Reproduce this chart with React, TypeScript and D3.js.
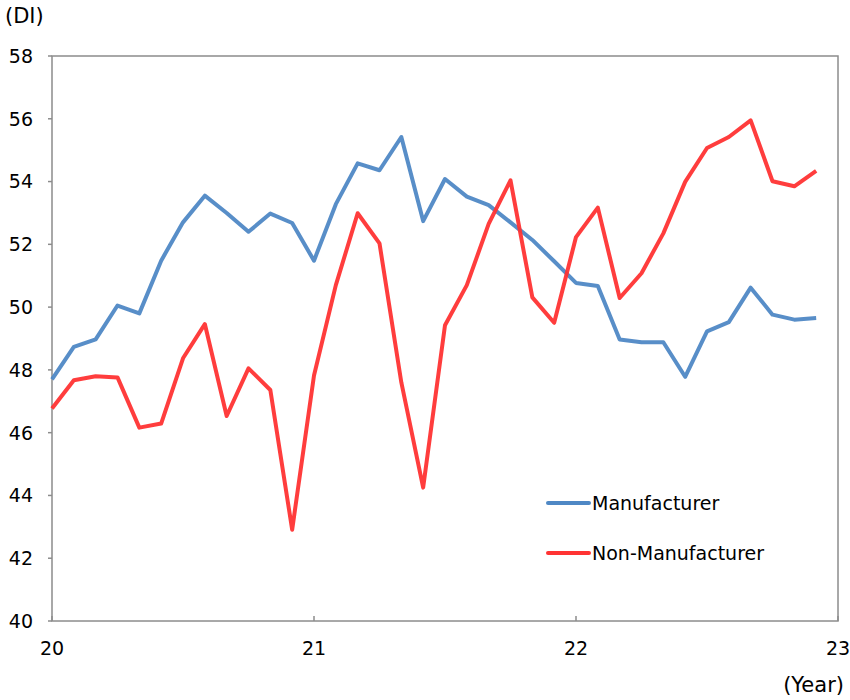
import React from "react";
import * as d3 from "d3";

// Monthly DI, Jan 2020 – Dec 2022
const manufacturer = [
  47.7, 48.73, 48.97, 50.05, 49.8, 51.48, 52.7, 53.55, 53.0, 52.4, 52.98, 52.68,
  51.48, 53.28, 54.58, 54.36, 55.42, 52.74, 54.08, 53.52, 53.25, 52.7, 52.14, 51.46,
  50.77, 50.67, 48.97, 48.88, 48.88, 47.78, 49.23, 49.52, 50.62, 49.76, 49.6, 49.65,
];
const nonManufacturer = [
  46.77, 47.67, 47.8, 47.76, 46.16, 46.29, 48.37, 49.46, 46.53, 48.05, 47.36, 42.91,
  47.82, 50.7, 52.99, 52.03, 47.6, 44.25, 49.42, 50.7, 52.65, 54.04, 50.31, 49.5,
  52.23, 53.17, 50.29, 51.08, 52.35, 53.99, 55.07, 55.42, 55.95, 54.01, 53.85, 54.34,
];
const yTicks = [40, 42, 44, 46, 48, 50, 52, 54, 56, 58];
const xTicks = [20, 21, 22, 23];

const series = [
  { name: "Manufacturer", values: manufacturer, color: "#4F88C5" },
  { name: "Non-Manufacturer", values: nonManufacturer, color: "#FF3333" },
];

const W = 850;
const H = 700;
const m = { left: 52, right: 838, top: 56, bottom: 621 };
const FONT = "Verdana, 'DejaVu Sans', sans-serif";

export default function App() {
  const x = d3.scaleLinear().domain([20, 23]).range([m.left, m.right]);
  const y = d3.scaleLinear().domain([40, 58]).range([m.bottom, m.top]);
  const line = d3
    .line<number>()
    .x((_, i) => x(20 + i / 12))
    .y((d) => y(d));

  const axisColor = "#8c8c8c";

  return (
    <svg
      width={W}
      height={H}
      style={{ position: "absolute", left: 0, top: 0, background: "#fff" }}
      fontFamily={FONT}
    >
      <rect x={0} y={0} width={W} height={H} fill="#fff" />
      {/* plot frame */}
      <rect
        x={m.left}
        y={m.top}
        width={m.right - m.left}
        height={m.bottom - m.top}
        fill="none"
        stroke={axisColor}
        strokeWidth={1.5}
      />
      {/* y axis ticks & labels */}
      {yTicks.map((t) => (
        <g key={t}>
          <line x1={m.left - 4} x2={m.left} y1={y(t)} y2={y(t)} stroke={axisColor} strokeWidth={1.5} />
          <text x={33} y={y(t)} dy="0.36em" textAnchor="end" fontSize={19} fill="#000">
            {t}
          </text>
        </g>
      ))}
      {/* x axis ticks & labels */}
      {xTicks.map((t) => (
        <g key={t}>
          <line x1={x(t)} x2={x(t)} y1={m.bottom} y2={m.bottom - 5} stroke={axisColor} strokeWidth={1.5} />
          <text x={x(t)} y={655} textAnchor="middle" fontSize={19} fill="#000">
            {t}
          </text>
        </g>
      ))}
      <text x={5} y={23} fontSize={21} fill="#000">(DI)</text>
      <text x={844} y={692} textAnchor="end" fontSize={21} fill="#000">(Year)</text>

      {/* series lines */}
      {series.map((s) => (
        <path
          key={s.name}
          d={line(s.values) ?? ""}
          fill="none"
          stroke={s.color}
          strokeWidth={4}
          strokeLinejoin="round"
          strokeOpacity={0.95}
        />
      ))}

      {/* legend */}
      {series.map((s, i) => (
        <g key={s.name} transform={`translate(0, ${503 + i * 50})`}>
          <line x1={548} x2={589} y1={0} y2={0} stroke={s.color} strokeWidth={4} strokeLinecap="round" />
          <text x={592} y={0} dy="0.36em" fontSize={19} fill="#000">
            {s.name}
          </text>
        </g>
      ))}
    </svg>
  );
}
